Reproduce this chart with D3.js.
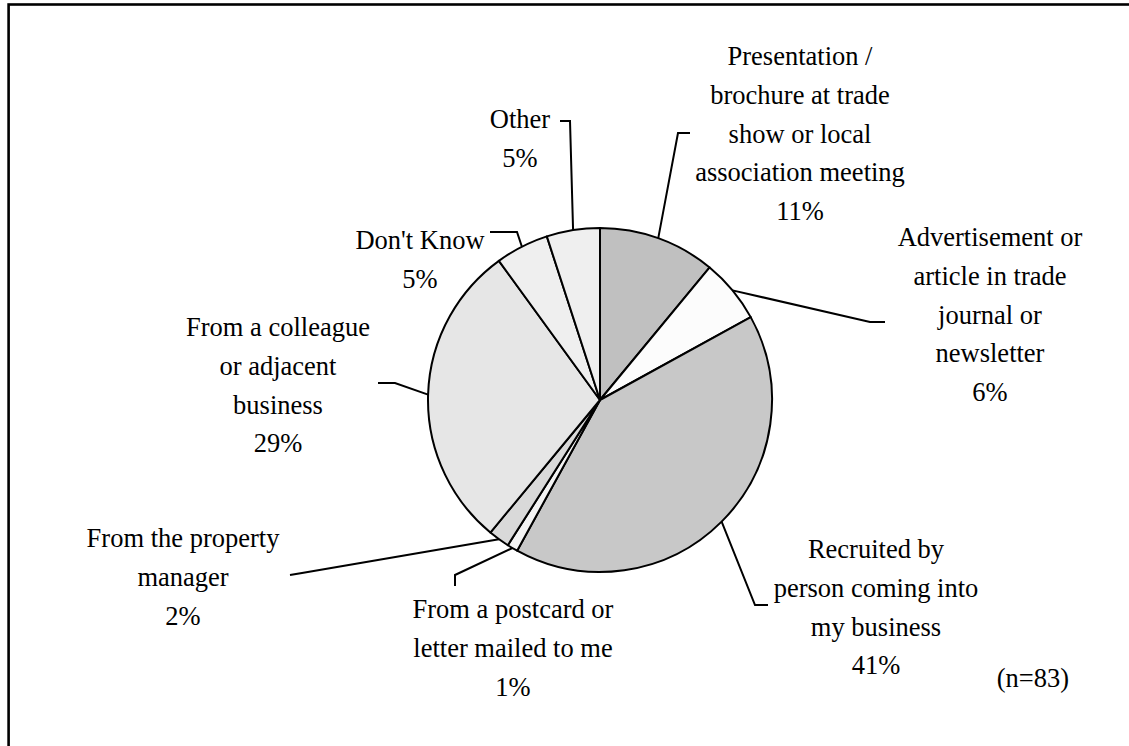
<!DOCTYPE html>
<html>
<head>
<meta charset="utf-8">
<script src="https://cdn.jsdelivr.net/npm/d3@7"></script>
<style>
  html, body { margin: 0; padding: 0; background: #fff; overflow: hidden; }
  svg { display: block; }
  text { font-family: "Liberation Serif", "Times New Roman", serif; font-size: 26.5px; fill: #000; }
</style>
</head>
<body>
<svg id="chart" width="1129" height="746"></svg>
<script>
// How respondents first heard about the program (n=83)
const categories = [
  "Presentation / brochure at trade show or local association meeting",
  "Advertisement or article in trade journal or newsletter",
  "Recruited by person coming into my business",
  "From a postcard or letter mailed to me",
  "From the property manager",
  "From a colleague or adjacent business",
  "Don't Know",
  "Other"
];
const shares = [11, 6, 41, 1, 2, 29, 5, 5];
const labelLines = [
  ["Presentation /", "brochure at trade", "show or local", "association meeting"],
  ["Advertisement or", "article in trade", "journal or", "newsletter"],
  ["Recruited by", "person coming into", "my business"],
  ["From a postcard or", "letter mailed to me"],
  ["From the property", "manager"],
  ["From a colleague", "or adjacent", "business"],
  ["Don't Know"],
  ["Other"]
];
const fills = ["#c0c0c0", "#fcfcfc", "#c8c8c8", "#f4f4f4", "#d9d9d9", "#e6e6e6", "#efefef", "#efefef"];
const sampleNote = "(n=83)";

// Label placement: text centre x, first baseline y, and the leader path
// from the slice edge out to the label.
const labelLayout = [
  { x: 800, y: 65,  leader: [[678, 133], [690, 133]] },
  { x: 990, y: 246, leader: [[870, 322], [885, 322]] },
  { x: 876, y: 558, leader: [[755, 605], [768, 605]] },
  { x: 513, y: 618, leader: [[455, 575], [455, 586]] },
  { x: 183, y: 547, leader: [[302, 573], [290, 575]] },
  { x: 278, y: 336, leader: [[395, 383], [378, 383]] },
  { x: 420, y: 249, leader: [[517, 232], [490, 232]] },
  { x: 520, y: 128, leader: [[570, 121], [560, 121]] }
];
const lineGap = 38.8;

const svg = d3.select("#chart");

// Outer frame
svg.append("rect")
  .attr("x", 8.6).attr("y", 4.5)
  .attr("width", 1300).attr("height", 900)
  .attr("fill", "none").attr("stroke", "#000").attr("stroke-width", 2.6);

const cx = 600, cy = 400, radius = 172;
const g = svg.append("g").attr("transform", `translate(${cx},${cy})`);

const pie = d3.pie().sort(null).value(d => d)(shares);
const arc = d3.arc().innerRadius(0).outerRadius(radius);
const rimArc = d3.arc().innerRadius(radius).outerRadius(radius);

g.selectAll("path.slice")
  .data(pie)
  .join("path")
  .attr("class", "slice")
  .attr("d", arc)
  .attr("fill", (d, i) => fills[i])
  .attr("stroke", "#000")
  .attr("stroke-width", 2)
  .attr("stroke-linejoin", "round");

// Leader lines
const line = d3.line();
pie.forEach((d, i) => {
  const c = rimArc.centroid(d);
  const pts = [[cx + c[0], cy + c[1]], ...labelLayout[i].leader];
  svg.append("path")
    .attr("d", line(pts))
    .attr("fill", "none")
    .attr("stroke", "#000")
    .attr("stroke-width", 2);
});

// Labels with percentage on the last line
pie.forEach((d, i) => {
  const lay = labelLayout[i];
  const lines = labelLines[i].concat([d.data + "%"]);
  const t = svg.append("text")
    .attr("text-anchor", "middle")
    .attr("x", lay.x)
    .attr("y", lay.y);
  lines.forEach((s, k) => {
    t.append("tspan")
      .attr("x", lay.x)
      .attr("y", lay.y + k * lineGap)
      .text(s);
  });
});

svg.append("text")
  .attr("x", 1069).attr("y", 687)
  .attr("text-anchor", "end")
  .text(sampleNote);
</script>
</body>
</html>
